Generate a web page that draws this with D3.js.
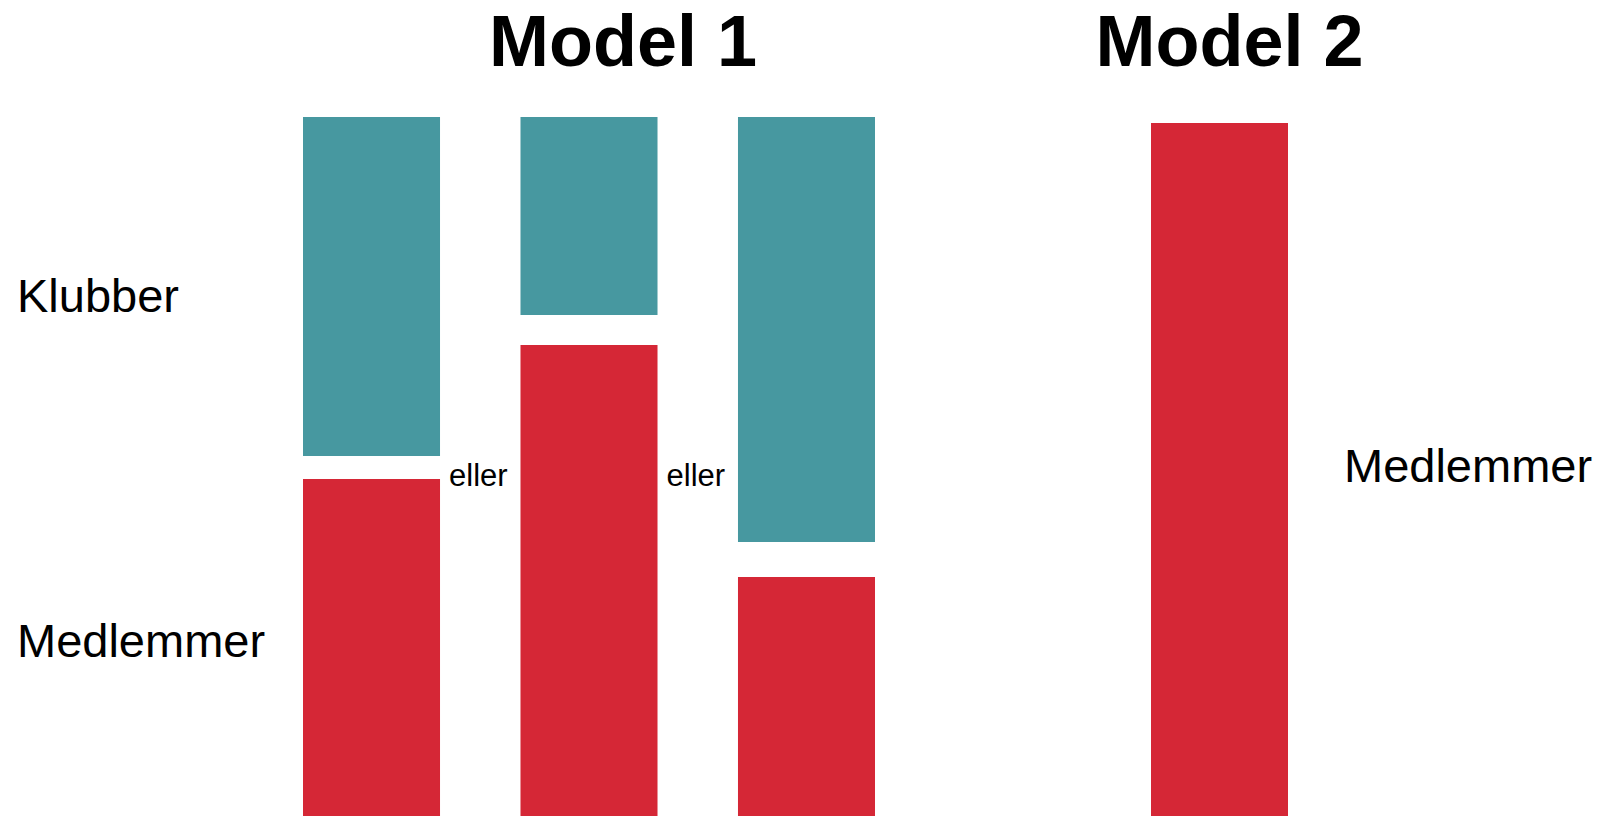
<!DOCTYPE html>
<html>
<head>
<meta charset="utf-8">
<script src="https://cdn.jsdelivr.net/npm/d3@7"></script>
<style>
  html, body { margin: 0; padding: 0; background: #ffffff; }
  svg { display: block; font-family: "Liberation Sans", Arial, Helvetica, sans-serif; }
</style>
</head>
<body>
<svg id="chart" width="1605" height="816"></svg>
<script>
// ---- data ----
const model1Options = ["Mulighed 1", "Mulighed 2", "Mulighed 3"];
const klubberFrom = [360, 501, 274];
const klubberTo = [699, 699, 699];
const medlemmerModel1 = [337, 471, 239];
const model2Options = ["Mulighed 1"];
const medlemmerModel2 = [693];
const titles = ["Model 1", "Model 2"];
const rowLabels = ["Klubber", "Medlemmer"];
const separatorLabel = "eller";

// ---- layout ----
const teal = "#4798a0";
const red = "#d52736";

const svg = d3.select("#chart");

const y = d3.scaleLinear().domain([0, 700]).range([816, 116]);

const x1 = d3.scaleBand().domain(model1Options).range([303, 875]).paddingInner(0.37);
const x2 = d3.scaleBand().domain(model2Options).range([1151, 1288]);

// Model 1 - Klubber (teal)
svg.append("g").selectAll("rect")
  .data(model1Options)
  .join("rect")
  .attr("x", d => x1(d))
  .attr("width", x1.bandwidth())
  .attr("y", (d, i) => y(klubberTo[i]))
  .attr("height", (d, i) => y(klubberFrom[i]) - y(klubberTo[i]))
  .attr("fill", teal);

// Model 1 - Medlemmer (red)
svg.append("g").selectAll("rect")
  .data(model1Options)
  .join("rect")
  .attr("x", d => x1(d))
  .attr("width", x1.bandwidth())
  .attr("y", (d, i) => y(medlemmerModel1[i]))
  .attr("height", (d, i) => y(0) - y(medlemmerModel1[i]))
  .attr("fill", red);

// Model 2 - Medlemmer (red)
svg.append("g").selectAll("rect")
  .data(model2Options)
  .join("rect")
  .attr("x", d => x2(d))
  .attr("width", x2.bandwidth())
  .attr("y", (d, i) => y(medlemmerModel2[i]))
  .attr("height", (d, i) => y(0) - y(medlemmerModel2[i]))
  .attr("fill", red);

// "eller" separators between the model 1 options
const sepG = svg.append("g");
model1Options.slice(0, -1).forEach((d) => {
  sepG.append("text")
    .attr("x", x1(d) + x1.bandwidth() + 9)
    .attr("y", 486)
    .attr("font-size", 31)
    .attr("fill", "#000")
    .text(separatorLabel);
});

// Titles
svg.append("text")
  .attr("x", (x1.range()[0] + x1.range()[1]) / 2 + 34)
  .attr("y", 66)
  .attr("text-anchor", "middle")
  .attr("font-size", 72)
  .attr("font-weight", "bold")
  .attr("fill", "#000")
  .text(titles[0]);

svg.append("text")
  .attr("x", x2(model2Options[0]) + x2.bandwidth() / 2 + 10)
  .attr("y", 66)
  .attr("text-anchor", "middle")
  .attr("font-size", 72)
  .attr("font-weight", "bold")
  .attr("fill", "#000")
  .text(titles[1]);

// Row labels
svg.append("text")
  .attr("x", 17)
  .attr("y", 312)
  .attr("font-size", 47)
  .attr("fill", "#000")
  .text(rowLabels[0]);

svg.append("text")
  .attr("x", 17)
  .attr("y", 657)
  .attr("font-size", 47)
  .attr("fill", "#000")
  .text(rowLabels[1]);

svg.append("text")
  .attr("x", 1344)
  .attr("y", 482)
  .attr("font-size", 47)
  .attr("fill", "#000")
  .text(rowLabels[1]);
</script>
</body>
</html>
